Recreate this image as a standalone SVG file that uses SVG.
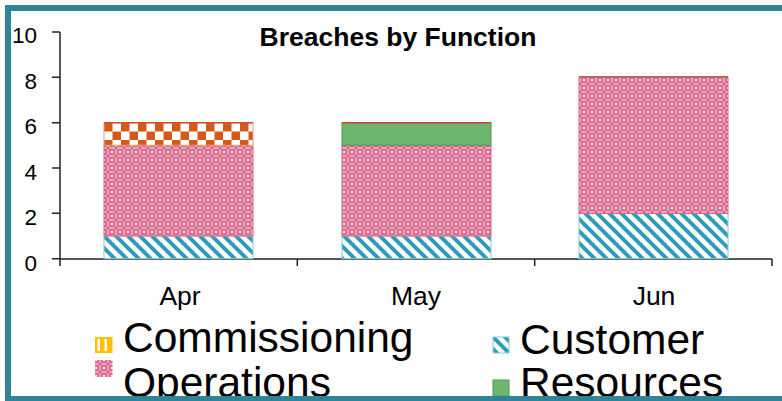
<svg xmlns="http://www.w3.org/2000/svg" width="782" height="401" viewBox="0 0 782 401">
  <style>
    .ax { stroke: #222; stroke-width: 1.5; fill: none; }
    .ytxt { font-family: "Liberation Sans", Arial, sans-serif; font-size: 22.5px; fill: #000; text-anchor: end; }
    .xtxt { font-family: "Liberation Sans", Arial, sans-serif; font-size: 26.5px; fill: #000; text-anchor: middle; }
    .ltxt { font-family: "Liberation Sans", Arial, sans-serif; font-size: 42.5px; fill: #000; }
    .title { font-family: "Liberation Sans", Arial, sans-serif; font-size: 26.5px; font-weight: bold; fill: #000; text-anchor: middle; }
    .cust { fill: url(#pCust); stroke: #8CCAD9; stroke-width: 1; }
    .ops { fill: url(#pOps); stroke: #D4668A; stroke-width: 1; }
    .chk { fill: url(#pChk); stroke: #E8A080; stroke-width: 1; }
    .res { fill: #6DB66D; stroke: #4E9A50; stroke-width: 1; }
  </style>
  <defs>
    <pattern id="pCust" patternUnits="userSpaceOnUse" width="12" height="12">
      <rect width="12" height="12" fill="#fff"/>
      <path d="M-3,-3 L15,15 M-3,9 L3,15 M9,-3 L15,3" stroke="#2E9DB9" stroke-width="4"/>
    </pattern>
    <pattern id="pOps" patternUnits="userSpaceOnUse" width="8" height="8">
      <rect width="8" height="8" fill="#DA6A90"/>
      <rect x="3" y="0" width="2" height="8" fill="#EBA6BC"/>
      <rect x="0" y="3" width="8" height="2" fill="#EBA6BC"/>
      <rect x="3" y="3" width="2" height="2" fill="#D35080"/>
      <circle cx="0" cy="0" r="1.3" fill="#F8E0E8"/>
      <circle cx="8" cy="0" r="1.3" fill="#F8E0E8"/>
      <circle cx="0" cy="8" r="1.3" fill="#F8E0E8"/>
      <circle cx="8" cy="8" r="1.3" fill="#F8E0E8"/>
    </pattern>
    <pattern id="pChk" patternUnits="userSpaceOnUse" x="104" y="123" width="17" height="17">
      <rect width="17" height="17" fill="#fff"/>
      <rect x="0" y="0" width="8.5" height="8.5" fill="#D45A1A"/>
      <rect x="8.5" y="8.5" width="8.5" height="8.5" fill="#D45A1A"/>
    </pattern>
  </defs>

  <rect id="frame" x="8" y="8" width="790" height="391" fill="#fff" stroke="#2E8599" stroke-width="6"/>

  <text id="title" class="title" x="398" y="46">Breaches by Function</text>

  <g id="axes">
    <path class="ax" d="M60,32 V266 M60,259 H772 M52,32 H60 M52,77.3 H60 M52,122.7 H60 M52,168 H60 M52,213.3 H60 M52,258.7 H60 M297.3,259 V266 M534.7,259 V266 M772,259 V266"/>
    <text class="ytxt" x="37" y="43">10</text>
    <text class="ytxt" x="37" y="88.5">8</text>
    <text class="ytxt" x="37" y="134">6</text>
    <text class="ytxt" x="37" y="179.5">4</text>
    <text class="ytxt" x="37" y="225">2</text>
    <text class="ytxt" x="37" y="270.5">0</text>
    <text class="xtxt" x="180" y="305">Apr</text>
    <text class="xtxt" x="416" y="305">May</text>
    <text class="xtxt" x="654" y="305">Jun</text>
  </g>

  <g id="bar-apr">
    <rect class="cust" x="104" y="236" width="149" height="22.7"/>
    <rect class="ops" x="104" y="145.3" width="149" height="90.7"/>
    <rect class="chk" x="104" y="122.7" width="149" height="22.6"/>
    <line x1="104" y1="122.7" x2="253" y2="122.7" stroke="#D04A30" stroke-width="1.5"/>
  </g>
  <g id="bar-may">
    <rect class="cust" x="342" y="236" width="149" height="22.7"/>
    <rect class="ops" x="342" y="145.3" width="149" height="90.7"/>
    <rect class="res" x="342" y="122.7" width="149" height="22.6"/>
    <line x1="342" y1="122.7" x2="491" y2="122.7" stroke="#D04040" stroke-width="1.5"/>
  </g>
  <g id="bar-jun">
    <rect class="cust" x="579" y="213.4" width="149" height="45.3"/>
    <rect class="ops" x="579" y="77.3" width="149" height="136.1"/>
    <line x1="579" y1="76.8" x2="728" y2="76.8" stroke="#B0664A" stroke-width="1.5"/>
  </g>

  <g id="legend">
    <g id="leg-commissioning">
      <rect x="95" y="337" width="17.5" height="16" fill="#FFC000"/>
      <rect x="97.5" y="339" width="2.5" height="12" fill="#fff"/>
      <rect x="104.5" y="339" width="2.5" height="12" fill="#fff"/>
      <text class="ltxt" x="123" y="352">Commissioning</text>
    </g>
    <g id="leg-customer">
      <rect x="493" y="337" width="16" height="16" fill="url(#pCust)" stroke="#8CCAD9" stroke-width="1"/>
      <text class="ltxt" x="520" y="354">Customer</text>
    </g>
    <g id="leg-operations">
      <rect x="95" y="360" width="17.5" height="17" fill="url(#pOps)"/>
      <text class="ltxt" x="123" y="397">Operations</text>
    </g>
    <g id="leg-resources">
      <rect x="493" y="380" width="16" height="16" class="res"/>
      <text class="ltxt" x="520" y="397">Resources</text>
    </g>
  </g>
  <path d="M5,399 H790" stroke="#2E8599" stroke-width="6" fill="none"/>
</svg>
